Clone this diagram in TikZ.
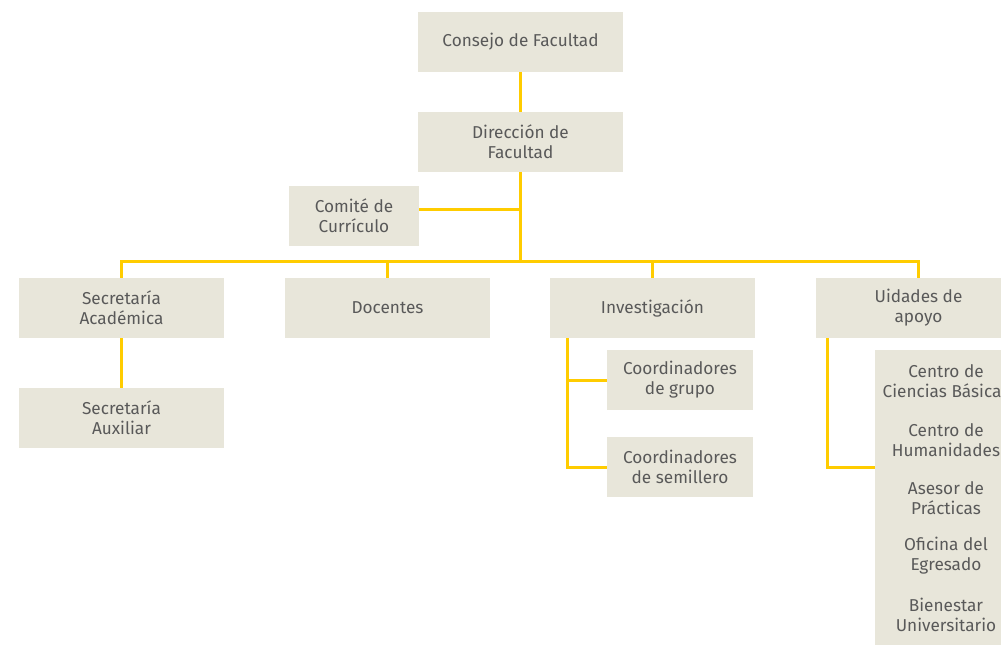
\documentclass[tikz,border=0pt]{standalone}
\usepackage{fontspec}
\setmainfont{Fira Sans}
\usetikzlibrary{positioning,calc}
\definecolor{caja}{HTML}{E8E6DA}
\definecolor{linea}{HTML}{FFCC00}
\definecolor{texto}{HTML}{595959}

\begin{document}
\begin{tikzpicture}[x=1pt, y=-1pt,
  font=\fontsize{17.2}{20}\selectfont, text=texto,
  unidad/.style={fill=caja, minimum width=205pt, minimum height=60pt,
    inner sep=2pt, align=center},
  sub/.style={unidad, minimum width=146pt},
  item/.style={align=center, inner sep=0pt},
  enlace/.style={draw=linea, line width=3pt}]
\useasboundingbox (0,0) rectangle (1001,645);
\clip (0,0) rectangle (1001,645);
% nivel superior
\node[unidad] (con) at (520.5,42) {Consejo de Facultad};
\node[unidad] (dir) at (520.5,142) {Dirección de\\ Facultad};
\node[unidad, minimum width=130pt] (com) at (354,216) {Comité de\\ Currículo};
\coordinate (bus) at (520.5,261);
% segundo nivel
\node[unidad] (sec) at (121.5,308) {Secretaría\\ Académica};
\node[unidad] (doc) at (387.5,308) {Docentes};
\node[unidad] (inv) at (652.5,308) {Investigación};
\node[unidad] (uni) at (918.5,308) {Uidades de\\ apoyo};
% dependencias
\node[unidad] (aux) at (121.5,418) {Secretaría\\ Auxiliar};
\node[sub] (cgr) at (680,380) {Coordinadores\\ de grupo};
\node[sub] (csm) at (680,467) {Coordinadores\\ de semillero};
\node[fill=caja, minimum width=146pt, minimum height=300pt, inner sep=0pt]
  (lista) at (948,500) {};
\node[item] (cb) at (946,381) {Centro de\\ Ciencias Básicas};
\node[item] (ch) at (946,440) {Centro de\\ Humanidades};
\node[item] (ap) at (946,498) {Asesor de\\ Prácticas};
\node[item] (oe) at (946,556) {Oficina del\\ Egresado};
\node[item] (bu) at (946,615) {Bienestar\\ Universitario};
% conectores
\begin{scope}[enlace]
\draw (con) -- (dir);
\draw (dir) -- (bus);
\draw ([yshift=7pt]com.east) -- ([yshift=7pt]com.east -| dir.south);
\draw (sec.north) |- (bus) -| (uni.north);
\draw (doc.north) -- (doc.north |- bus);
\draw (inv.north) -- (inv.north |- bus);
\draw (sec) -- (aux);
\draw ([xshift=18pt]inv.south west) |- (cgr.west);
\draw ([xshift=18pt]inv.south west) |- (csm.west);
\draw ([xshift=12pt]uni.south west) |- (lista.west |- csm.west);
\end{scope}
\end{tikzpicture}
\end{document}
